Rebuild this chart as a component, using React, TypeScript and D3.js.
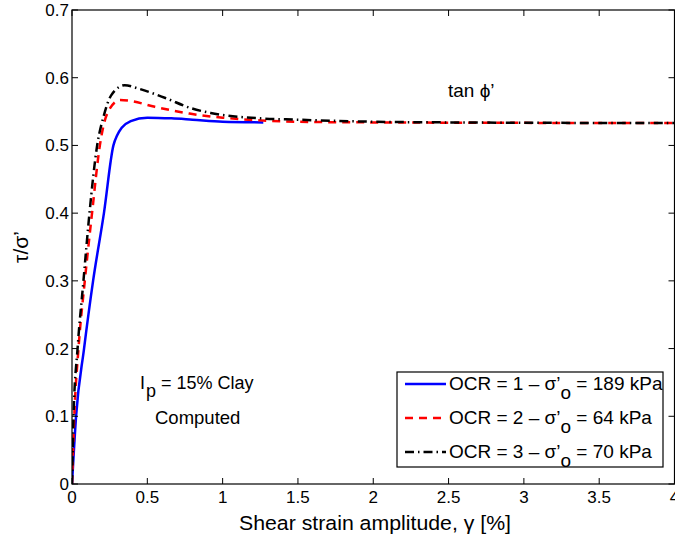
import React from "react";
import * as d3 from "d3";

const xTicks = [0, 0.5, 1, 1.5, 2, 2.5, 3, 3.5, 4];
const yTicks = [0, 0.1, 0.2, 0.3, 0.4, 0.5, 0.6, 0.7];

const ocr1X = [0, 0.027, 0.08, 0.14, 0.212, 0.275, 0.3, 0.33, 0.39, 0.5, 0.66, 0.8, 1.0, 1.27];
const ocr1Y = [0, 0.1, 0.2, 0.3, 0.4, 0.5, 0.515, 0.526, 0.536, 0.541, 0.54, 0.538, 0.535, 0.534];

const ocr2X = [0, 0.015, 0.043, 0.085, 0.133, 0.185, 0.21, 0.24, 0.32, 0.38, 0.55, 0.78, 1.0, 1.25, 1.5, 2, 4];
const ocr2Y = [0, 0.1, 0.2, 0.3, 0.4, 0.5, 0.53, 0.55, 0.567, 0.566, 0.557, 0.547, 0.541, 0.537, 0.535, 0.534, 0.533];

const ocr3X = [0, 0.01, 0.037, 0.076, 0.116, 0.167, 0.21, 0.26, 0.35, 0.44, 0.62, 0.79, 0.92, 1.25, 1.5, 2, 2.5, 4];
const ocr3Y = [0, 0.1, 0.2, 0.3, 0.4, 0.5, 0.543, 0.574, 0.589, 0.584, 0.57, 0.555, 0.548, 0.54, 0.538, 0.535, 0.534, 0.533];

const legendNames = ["OCR = 1 – σ’", "OCR = 2 – σ’", "OCR = 3 – σ’"];
const legendTails = [" = 189 kPa", " = 64 kPa", " = 70 kPa"];

const FONT = "'Liberation Sans', Arial, Helvetica, sans-serif";

export default function App() {
  const W = 675, H = 540;
  const x = d3.scaleLinear().domain([0, 4]).range([72, 674.5]);
  const y = d3.scaleLinear().domain([0, 0.7]).range([484, 10]);
  const line = d3
    .line<[number, number]>()
    .x((d) => x(d[0]))
    .y((d) => y(d[1]))
    .curve(d3.curveMonotoneX);
  const toPts = (xs: number[], ys: number[]) => xs.map((v, i) => [v, ys[i]] as [number, number]);

  const series = [
    { pts: toPts(ocr1X, ocr1Y), color: "#0000ff", dash: "none" },
    { pts: toPts(ocr2X, ocr2Y), color: "#ff0000", dash: "8,6" },
    { pts: toPts(ocr3X, ocr3Y), color: "#000000", dash: "9,4,1.5,4" },
  ];

  const x0 = x(0), x1 = x(4), y0 = y(0), y1 = y(0.7);
  const tl = 6;
  const lgX = 397, lgY = 372, lgW = 266, lgH = 95;
  const rowY = [384, 418, 452];

  return (
    <svg width={W} height={H} style={{ position: "absolute", left: 0, top: 0, background: "#fff" }} fontFamily={FONT}>
      <rect x={0} y={0} width={W} height={H} fill="#fff" />
      <defs>
        <clipPath id="plot">
          <rect x={x0} y={y1} width={x1 - x0} height={y0 - y1} />
        </clipPath>
      </defs>
      <g clipPath="url(#plot)">
        {series.map((s, i) => (
          <path key={i} d={line(s.pts) || ""} fill="none" stroke={s.color} strokeWidth={2.5} strokeDasharray={s.dash} />
        ))}
      </g>
      <rect x={x0} y={y1} width={x1 - x0} height={y0 - y1} fill="none" stroke="#000" strokeWidth={1.2} />
      {xTicks.map((t) => (
        <g key={"x" + t}>
          <line x1={x(t)} x2={x(t)} y1={y0} y2={y0 - tl} stroke="#000" strokeWidth={1} />
          <line x1={x(t)} x2={x(t)} y1={y1} y2={y1 + tl} stroke="#000" strokeWidth={1} />
          <text x={x(t)} y={y0 + 19} textAnchor="middle" fontSize={17}>{t}</text>
        </g>
      ))}
      {yTicks.map((t) => (
        <g key={"y" + t}>
          <line x1={x0} x2={x0 + tl} y1={y(t)} y2={y(t)} stroke="#000" strokeWidth={1} />
          <line x1={x1} x2={x1 - tl} y1={y(t)} y2={y(t)} stroke="#000" strokeWidth={1} />
          <text x={x0 - 3} y={y(t) + 6} textAnchor="end" fontSize={17}>{t}</text>
        </g>
      ))}
      <text x={375} y={530} textAnchor="middle" fontSize={20.5} textLength={272} lengthAdjust="spacingAndGlyphs">Shear strain amplitude, γ [%]</text>
      <text transform={`translate(28,${y(0.35)}) rotate(-90)`} textAnchor="middle" fontSize={21}>τ/σ’</text>
      <text x={448} y={97} fontSize={19}>tan ϕ’</text>
      <text x={140} y={389} fontSize={18}>
        I<tspan dx={1} dy={8}>p</tspan><tspan dy={-8}> = 15% Clay</tspan>
      </text>
      <text x={155} y={424} fontSize={18.5}>Computed</text>
      <rect x={lgX} y={lgY} width={lgW} height={lgH} fill="#fff" stroke="#000" strokeWidth={1.2} />
      {series.map((s, i) => (
        <g key={"lg" + i}>
          <line x1={405} x2={446} y1={rowY[i]} y2={rowY[i]} stroke={s.color} strokeWidth={2.5} strokeDasharray={s.dash} />
          <text x={449} y={rowY[i] + 6} fontSize={19}>
            {legendNames[i]}
            <tspan dy={9}>o</tspan>
            <tspan dy={-9}>{legendTails[i]}</tspan>
          </text>
        </g>
      ))}
    </svg>
  );
}
